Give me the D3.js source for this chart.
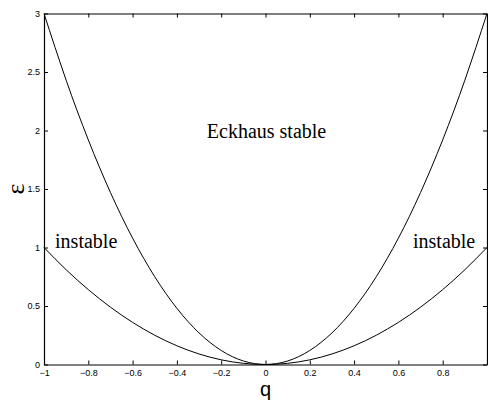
<!DOCTYPE html>
<html>
<head>
<meta charset="utf-8">
<script src="https://cdn.jsdelivr.net/npm/d3@7"></script>
<style>
  body { margin: 0; background: #fff; }
  svg { display: block; }
</style>
</head>
<body>
<svg width="488" height="402"></svg>
<script>
// q samples and the two boundary curves
let qValues = [-1, -0.9, -0.8, -0.7, -0.6, -0.5, -0.4, -0.3, -0.2, -0.1, 0, 0.1, 0.2, 0.3, 0.4, 0.5, 0.6, 0.7, 0.8, 0.9, 1];
let eckhausEps = [3, 2.43, 1.92, 1.47, 1.08, 0.75, 0.48, 0.27, 0.12, 0.03, 0, 0.03, 0.12, 0.27, 0.48, 0.75, 1.08, 1.47, 1.92, 2.43, 3];
let neutralEps = [1, 0.81, 0.64, 0.49, 0.36, 0.25, 0.16, 0.09, 0.04, 0.01, 0, 0.01, 0.04, 0.09, 0.16, 0.25, 0.36, 0.49, 0.64, 0.81, 1];

let xTicks = [-1, -0.8, -0.6, -0.4, -0.2, 0, 0.2, 0.4, 0.6, 0.8];
let yTicks = [0, 0.5, 1, 1.5, 2, 2.5, 3];

let regionLabels = [
  { text: 'Eckhaus stable', q: -0.265, eps: 1.94 },
  { text: 'instable', q: -0.95, eps: 1.0 },
  { text: 'instable', q: 0.666, eps: 1.0 }
];

let svg = d3.select('svg');

let padL = 44, padR = 487, padT = 13.5, padB = 364.5;

let x = d3.scaleLinear().domain([-1, 1]).range([padL, padR]);
let y = d3.scaleLinear().domain([0, 3]).range([padB, padT]);

let fmt = d => d3.format('')(d).replace('-', '\u2212');

// axes, ticks pointing inward
svg.append('g')
  .attr('transform', `translate(0,${padB})`)
  .call(d3.axisBottom(x).tickValues(xTicks).tickSizeInner(-4).tickSizeOuter(0).tickPadding(5).tickFormat(fmt));
svg.append('g')
  .attr('transform', `translate(0,${padT})`)
  .call(d3.axisTop(x).tickValues(xTicks).tickSizeInner(-4).tickSizeOuter(0).tickFormat(''));
svg.append('g')
  .attr('transform', `translate(${padL},0)`)
  .call(d3.axisLeft(y).tickValues(yTicks).tickSizeInner(-4).tickSizeOuter(0).tickPadding(4).tickFormat(fmt));
svg.append('g')
  .attr('transform', `translate(${padR},0)`)
  .call(d3.axisRight(y).tickValues(yTicks).tickSizeInner(-4).tickSizeOuter(0).tickFormat(''));

svg.selectAll('.domain').attr('stroke', '#000').attr('stroke-width', 1.2);
svg.selectAll('.tick line').attr('stroke', '#000');
svg.selectAll('.tick text')
  .attr('font-family', 'Liberation Sans, Arial, sans-serif')
  .attr('font-size', 9)
  .attr('fill', '#000');

// curves
let line = d3.line()
  .x(d => x(d[0]))
  .y(d => y(d[1]))
  .curve(d3.curveNatural);

[eckhausEps, neutralEps].forEach(series => {
  svg.append('path')
    .datum(qValues.map((q, i) => [q, series[i]]))
    .attr('fill', 'none')
    .attr('stroke', '#000')
    .attr('stroke-width', 1)
    .attr('d', line);
});

// region labels
svg.selectAll('.region')
  .data(regionLabels)
  .enter().append('text')
  .attr('class', 'region')
  .attr('x', d => x(d.q))
  .attr('y', d => y(d.eps))
  .attr('font-family', 'Liberation Serif, Times New Roman, serif')
  .attr('font-size', 20)
  .text(d => d.text);

// axis titles
svg.append('text')
  .attr('x', x(0))
  .attr('y', 396)
  .attr('text-anchor', 'middle')
  .attr('font-family', 'Liberation Sans, Arial, sans-serif')
  .attr('font-size', 20)
  .text('q');

svg.append('text')
  .attr('transform', `translate(24,${(padT + padB) / 2}) rotate(-90)`)
  .attr('text-anchor', 'middle')
  .attr('font-family', 'Liberation Serif, Times New Roman, serif')
  .attr('font-size', 26)
  .text('ε');
</script>
</body>
</html>
